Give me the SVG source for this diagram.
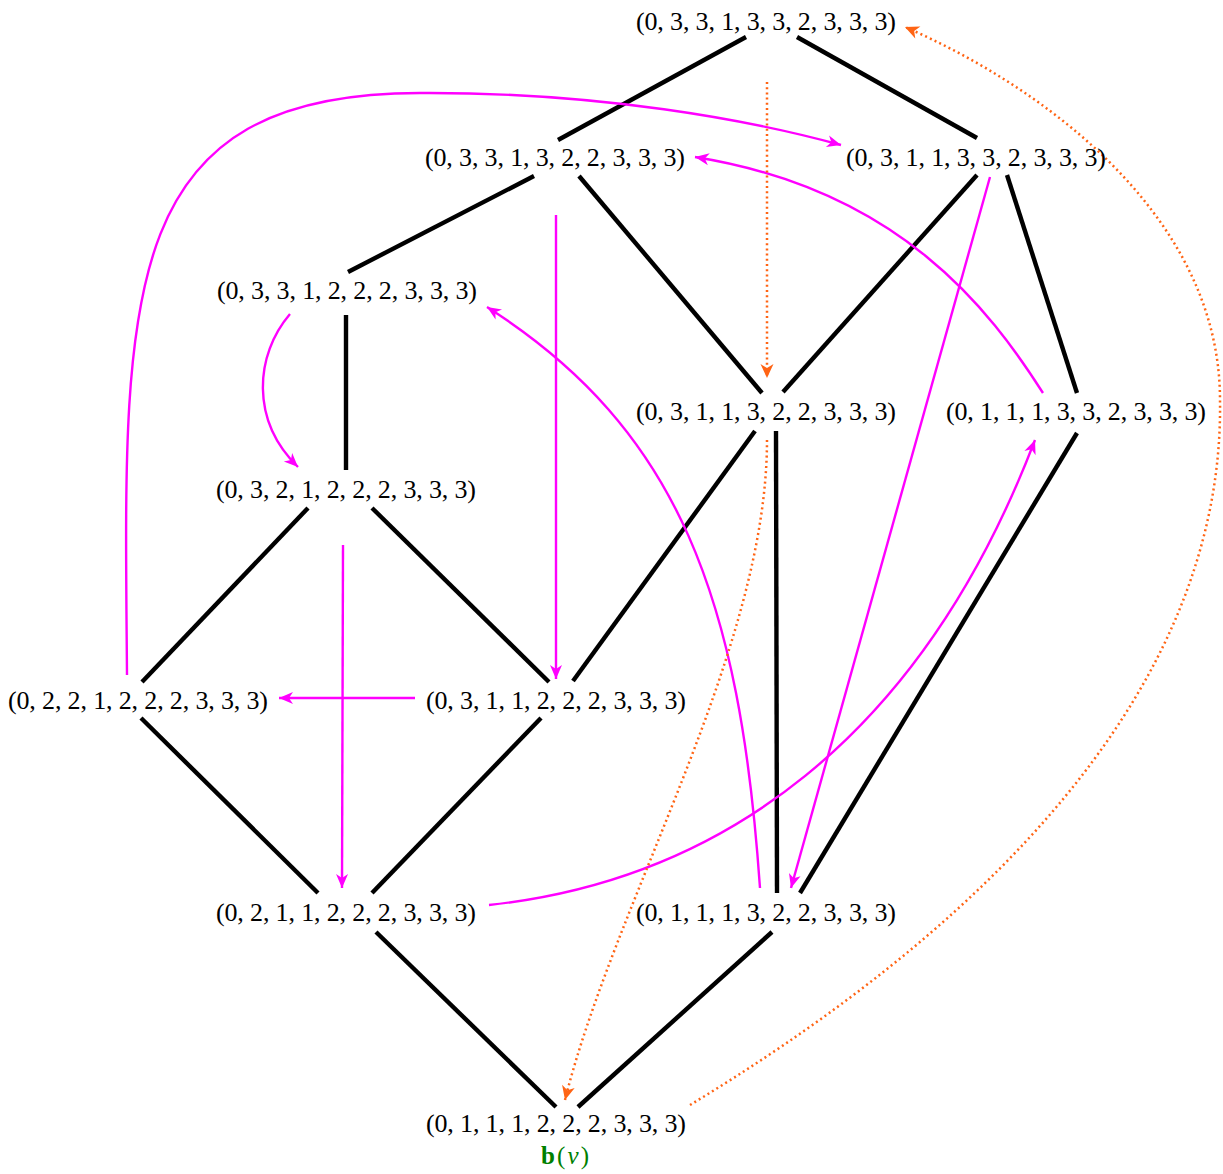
<svg xmlns="http://www.w3.org/2000/svg" width="1223" height="1174" viewBox="0 0 1223 1174">
<style>
.lbl{font-family:"Liberation Serif","DejaVu Serif",serif;font-size:26px;fill:#000;text-anchor:middle}
.grn{font-family:"Liberation Serif","DejaVu Serif",serif;font-size:25px;fill:#008000;text-anchor:middle}
.e{stroke:#000;stroke-width:4.4;fill:none}
.m{stroke:#FF00FF;stroke-width:2.4;fill:none;marker-end:url(#am)}
.o{stroke:#FF6414;stroke-width:2.5;fill:none;stroke-dasharray:2 3.2;marker-end:url(#ao)}
</style>
<defs>
<marker id="am" viewBox="-15 -8 16 16" refX="0" refY="0" markerWidth="16" markerHeight="16" markerUnits="userSpaceOnUse" orient="auto">
<path d="M0,0 L-14,-6 L-10,0 L-14,6 Z" fill="#FF00FF"/>
</marker>
<marker id="ao" viewBox="-15 -8 16 16" refX="0" refY="0" markerWidth="16" markerHeight="16" markerUnits="userSpaceOnUse" orient="auto">
<path d="M0,0 L-14,-6.5 L-10,0 L-14,6.5 Z" fill="#FF6414"/>
</marker>
</defs>
<g id="connectors">
<line class="e" x1="746" y1="37" x2="558" y2="140"/>
<line class="e" x1="797" y1="37" x2="977" y2="138"/>
<line class="e" x1="534" y1="176" x2="348" y2="272"/>
<line class="e" x1="579" y1="176" x2="762" y2="393"/>
<line class="e" x1="977" y1="175" x2="783" y2="392"/>
<line class="e" x1="1007" y1="175" x2="1077" y2="393"/>
<line class="e" x1="346" y1="315" x2="346" y2="470"/>
<line class="e" x1="755" y1="431" x2="573" y2="681"/>
<line class="e" x1="776" y1="431" x2="777" y2="893"/>
<line class="e" x1="1077" y1="433" x2="800" y2="893"/>
<line class="e" x1="308" y1="508" x2="142" y2="682"/>
<line class="e" x1="372" y1="508" x2="549" y2="682"/>
<line class="e" x1="141" y1="718" x2="318" y2="893"/>
<line class="e" x1="541" y1="718" x2="372" y2="893"/>
<line class="e" x1="376" y1="932" x2="556" y2="1107"/>
<line class="e" x1="772" y1="932" x2="578" y2="1107"/>
<path class="m" d="M127,675 C124,300 112,93 420,93 C600,92 750,120 841,145"/>
<path class="m" d="M1043,393 C990,310 900,190 695,157"/>
<path class="m" d="M990,177 L791,888"/>
<path class="m" d="M556,215 L556,679"/>
<path class="m" d="M290,314 C255,355 250,420 298,467"/>
<path class="m" d="M343,545 L342,888"/>
<path class="m" d="M415,698 L279,698"/>
<path class="m" d="M489,905 C720,880 920,740 1035,440"/>
<path class="m" d="M760,888 C740,600 680,430 487,307"/>
<path class="o" d="M767,82 L767,378"/>
<path class="o" d="M767,440 C767,650 615,900 565,1100"/>
<path class="o" d="M690,1105 C930,960 1225,720 1220,400 C1220,220 1050,90 905,27"/>
</g>
<g id="n1"><text class="lbl" x="766" y="30" textLength="260" lengthAdjust="spacing">(0, 3, 3, 1, 3, 3, 2, 3, 3, 3)</text></g>
<g id="n2"><text class="lbl" x="555" y="166" textLength="260" lengthAdjust="spacing">(0, 3, 3, 1, 3, 2, 2, 3, 3, 3)</text></g>
<g id="n3"><text class="lbl" x="976" y="166" textLength="260" lengthAdjust="spacing">(0, 3, 1, 1, 3, 3, 2, 3, 3, 3)</text></g>
<g id="n4"><text class="lbl" x="347" y="299" textLength="260" lengthAdjust="spacing">(0, 3, 3, 1, 2, 2, 2, 3, 3, 3)</text></g>
<g id="n5"><text class="lbl" x="766" y="420" textLength="260" lengthAdjust="spacing">(0, 3, 1, 1, 3, 2, 2, 3, 3, 3)</text></g>
<g id="n6"><text class="lbl" x="1076" y="420" textLength="260" lengthAdjust="spacing">(0, 1, 1, 1, 3, 3, 2, 3, 3, 3)</text></g>
<g id="n7"><text class="lbl" x="346" y="498" textLength="260" lengthAdjust="spacing">(0, 3, 2, 1, 2, 2, 2, 3, 3, 3)</text></g>
<g id="n8"><text class="lbl" x="138" y="709" textLength="260" lengthAdjust="spacing">(0, 2, 2, 1, 2, 2, 2, 3, 3, 3)</text></g>
<g id="n9"><text class="lbl" x="556" y="709" textLength="260" lengthAdjust="spacing">(0, 3, 1, 1, 2, 2, 2, 3, 3, 3)</text></g>
<g id="n10"><text class="lbl" x="346" y="921" textLength="260" lengthAdjust="spacing">(0, 2, 1, 1, 2, 2, 2, 3, 3, 3)</text></g>
<g id="n11"><text class="lbl" x="766" y="921" textLength="260" lengthAdjust="spacing">(0, 1, 1, 1, 3, 2, 2, 3, 3, 3)</text></g>
<g id="n12"><text class="lbl" x="556" y="1132" textLength="260" lengthAdjust="spacing">(0, 1, 1, 1, 2, 2, 2, 3, 3, 3)</text>
<text class="grn" x="565" y="1164" textLength="48" lengthAdjust="spacing"><tspan font-weight="bold">b</tspan>(<tspan font-style="italic">ν</tspan>)</text></g>
</svg>
